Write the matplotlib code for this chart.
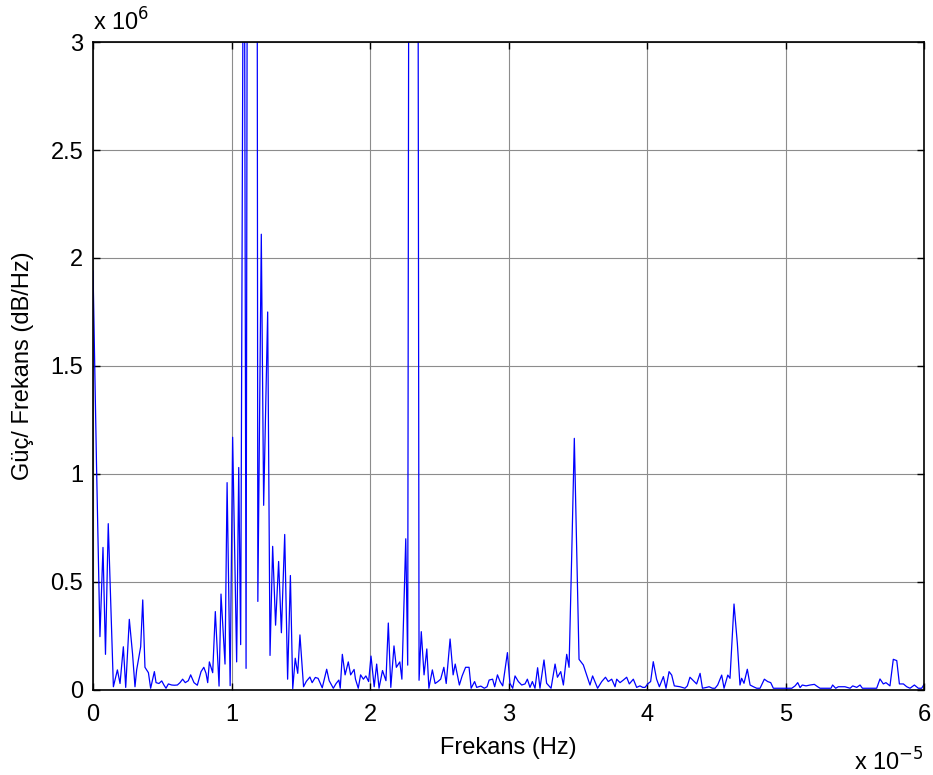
import numpy as np
import matplotlib
matplotlib.use("Agg")
import matplotlib.pyplot as plt
from matplotlib.ticker import FuncFormatter

# frequency in units of 1e-5 Hz, power in units of 1e6
freq = [0.0, 0.025, 0.05, 0.072, 0.09, 0.11, 0.147, 0.176, 0.195, 0.219, 0.236, 0.262, 0.285,
        0.303, 0.315, 0.344, 0.359, 0.375, 0.4, 0.416, 0.443, 0.455, 0.476, 0.496, 0.512, 0.527,
        0.544, 0.568, 0.588, 0.609, 0.628, 0.647, 0.666, 0.688, 0.705, 0.729, 0.753, 0.78, 0.8,
        0.816, 0.828, 0.84, 0.864, 0.883, 0.91, 0.924, 0.953, 0.968, 0.99, 1.008, 1.037, 1.052,
        1.066, 1.09, 1.105, 1.125, 1.15, 1.172, 1.19, 1.215, 1.232, 1.261, 1.278, 1.297, 1.318,
        1.34, 1.36, 1.384, 1.405, 1.425, 1.442, 1.46, 1.478, 1.494, 1.52, 1.54, 1.566, 1.582,
        1.605, 1.625, 1.655, 1.687, 1.705, 1.735, 1.755, 1.775, 1.785, 1.8, 1.82, 1.843, 1.86,
        1.885, 1.895, 1.915, 1.932, 1.952, 1.97, 1.99, 2.007, 2.03, 2.048, 2.065, 2.09, 2.115,
        2.132, 2.15, 2.173, 2.19, 2.215, 2.23, 2.258, 2.272, 2.29, 2.31, 2.335, 2.354, 2.37,
        2.39, 2.41, 2.425, 2.45, 2.47, 2.49, 2.51, 2.533, 2.55, 2.578, 2.6, 2.615, 2.645, 2.665,
        2.69, 2.715, 2.73, 2.755, 2.77, 2.8, 2.825, 2.845, 2.86, 2.885, 2.9, 2.92, 2.939, 2.958,
        2.992, 3.01, 3.03, 3.047, 3.071, 3.095, 3.119, 3.136, 3.155, 3.172, 3.191, 3.21, 3.227,
        3.256, 3.275, 3.307, 3.336, 3.353, 3.377, 3.396, 3.42, 3.437, 3.456, 3.475, 3.509, 3.54,
        3.564, 3.588, 3.607, 3.643, 3.673, 3.7, 3.72, 3.745, 3.769, 3.781, 3.805, 3.829, 3.853,
        3.872, 3.901, 3.925, 3.949, 3.969, 3.985, 4.01, 4.026, 4.045, 4.069, 4.089, 4.118, 4.137,
        4.159, 4.178, 4.197, 4.238, 4.274, 4.291, 4.31, 4.33, 4.358, 4.383, 4.4, 4.43, 4.448,
        4.472, 4.491, 4.51, 4.539, 4.556, 4.583, 4.599, 4.628, 4.652, 4.671, 4.683, 4.7, 4.724,
        4.744, 4.768, 4.792, 4.816, 4.847, 4.871, 4.893, 4.912, 4.936, 4.996, 5.045, 5.069,
        5.088, 5.105, 5.121, 5.148, 5.177, 5.208, 5.232, 5.249, 5.328, 5.34, 5.362, 5.381,
        5.429, 5.466, 5.485, 5.514, 5.538, 5.555, 5.658, 5.682, 5.706, 5.725, 5.754, 5.778,
        5.803, 5.822, 5.851, 5.875, 5.899, 5.93, 5.959, 5.983, 6.002]

power = [1.94, 1.05, 0.247, 0.66, 0.165, 0.77, 0.015, 0.093, 0.03, 0.20, 0.012, 0.327, 0.17,
         0.015, 0.093, 0.20, 0.417, 0.105, 0.08, 0.008, 0.085, 0.034, 0.03, 0.042, 0.023, 0.008,
         0.028, 0.023, 0.022, 0.023, 0.034, 0.05, 0.034, 0.043, 0.07, 0.034, 0.022, 0.085, 0.105,
         0.077, 0.034, 0.13, 0.08, 0.363, 0.018, 0.444, 0.12, 0.96, 0.02, 1.17, 0.13, 1.03,
         0.21, 4.5, 0.10, 8.0, 10.0, 12.0, 0.41, 2.11, 0.855, 1.75, 0.16, 0.665, 0.30,
         0.595, 0.265, 0.72, 0.05, 0.53, 0.006, 0.147, 0.077, 0.255, 0.015, 0.04, 0.06, 0.034,
         0.058, 0.054, 0.01, 0.096, 0.043, 0.008, 0.03, 0.046, 0.008, 0.165, 0.07, 0.13, 0.07,
         0.095, 0.05, 0.008, 0.07, 0.05, 0.065, 0.039, 0.157, 0.015, 0.12, 0.008, 0.09, 0.043,
         0.31, 0.012, 0.204, 0.105, 0.13, 0.05, 0.70, 0.115, 8.0, 12.0, 9.0, 0.045, 0.27,
         0.07, 0.19, 0.008, 0.093, 0.03, 0.039, 0.05, 0.105, 0.03, 0.236, 0.07, 0.12, 0.023, 0.065,
         0.105, 0.105, 0.008, 0.039, 0.012, 0.018, 0.008, 0.015, 0.046, 0.05, 0.015, 0.07, 0.039, 0.019,
         0.173, 0.031, 0.008, 0.065, 0.039, 0.023, 0.028, 0.05, 0.012, 0.039, 0.008, 0.103, 0.008,
         0.139, 0.031, 0.008, 0.12, 0.059, 0.085, 0.023, 0.165, 0.105, 0.62, 1.165, 0.142, 0.116,
         0.069, 0.023, 0.065, 0.008, 0.039, 0.059, 0.039, 0.05, 0.015, 0.05, 0.034, 0.046, 0.059,
         0.028, 0.05, 0.012, 0.019, 0.012, 0.012, 0.031, 0.039, 0.131, 0.05, 0.015, 0.062, 0.008,
         0.085, 0.069, 0.019, 0.015, 0.008, 0.019, 0.059, 0.046, 0.028, 0.077, 0.008, 0.012, 0.015,
         0.008, 0.008, 0.023, 0.069, 0.008, 0.069, 0.054, 0.398, 0.216, 0.023, 0.054, 0.031, 0.096,
         0.023, 0.015, 0.008, 0.008, 0.05, 0.039, 0.034, 0.008, 0.008, 0.008, 0.008, 0.019,
         0.034, 0.011, 0.023, 0.019, 0.023, 0.026, 0.015, 0.008, 0.008, 0.023, 0.008, 0.015,
         0.015, 0.008, 0.019, 0.012, 0.023, 0.008, 0.008, 0.051, 0.028, 0.034, 0.019, 0.142,
         0.136, 0.028, 0.028, 0.015, 0.008, 0.023, 0.008, 0.008, 0.028]

x_ticks = [0, 1, 2, 3, 4, 5, 6]
y_ticks = [0, 0.5, 1, 1.5, 2, 2.5, 3]

plt.rcParams['font.family'] = ['Liberation Sans', 'DejaVu Sans']

fig = plt.figure(figsize=(9.33, 7.75), dpi=100)
ax = fig.add_axes([0.0997, 0.1097, 0.8907, 0.8361])

f = np.array(freq) * 1e-5
p = np.array(power) * 1e6
ax.plot(f, p, color='#0000ff', linewidth=0.9)

ax.set_xlim(0, 6e-5)
ax.set_ylim(0, 3e6)
ax.set_xticks([t * 1e-5 for t in x_ticks])
ax.set_yticks([t * 1e6 for t in y_ticks])
ax.xaxis.set_major_formatter(FuncFormatter(lambda v, pos: '%g' % round(v / 1e-5, 3)))
ax.yaxis.set_major_formatter(FuncFormatter(lambda v, pos: '%g' % round(v / 1e6, 3)))

ax.grid(True, color='#8c8c8c', linewidth=0.8, linestyle='-')
ax.set_axisbelow(True)
ax.tick_params(direction='in', length=5, width=1, top=True, right=True,
               labelsize=17, pad=7)
ax.tick_params(axis='x', pad=10)
for s in ax.spines.values():
    s.set_linewidth(1.2)

ax.set_xlabel('Frekans (Hz)', fontsize=17, labelpad=8)
ax.set_ylabel('Güç/ Frekans (dB/Hz)', fontsize=17, labelpad=12)

# MATLAB-style exponent labels
ax.text(0.0, 1.01, r'x 10$^{6}$', transform=ax.transAxes, fontsize=17,
        ha='left', va='bottom')
ax.text(1.0, -0.09, r'x 10$^{-5}$', transform=ax.transAxes, fontsize=17,
        ha='right', va='top')

fig.savefig('out.png', dpi=100)
